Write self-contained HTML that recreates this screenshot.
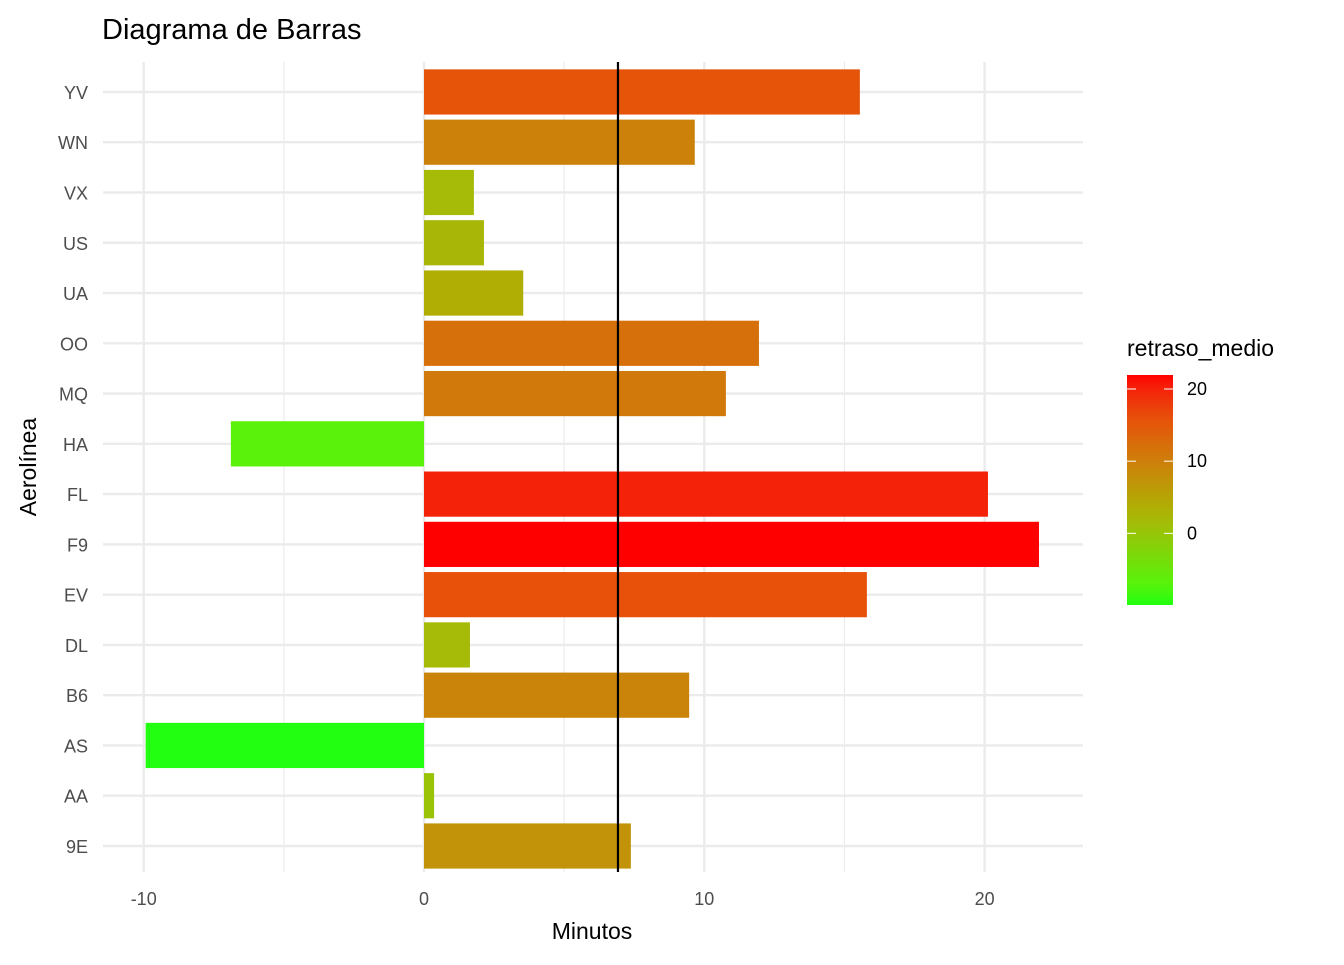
<!DOCTYPE html>
<html><head><meta charset="utf-8"><style>
body{margin:0;background:#fff;font-family:"Liberation Sans",Arial,sans-serif}
</style></head><body>
<svg id="c" width="1344" height="960" xmlns="http://www.w3.org/2000/svg"></svg>
<script>
const categories=["9E","AA","AS","B6","DL","EV","F9","FL","HA","MQ","OO","UA","US","VX","WN","YV"];
const values=[7.38,0.36,-9.93,9.46,1.64,15.8,21.94,20.12,-6.89,10.77,11.95,3.54,2.14,1.78,9.66,15.55];
const meanLine=6.92;
const xTicks=[-10,0,10,20];
const xMinor=[-5,5,15];
const legendTicks=[0,10,20];
const NS="http://www.w3.org/2000/svg";
const svg=document.getElementById('c');
function el(t,a,p){const e=document.createElementNS(NS,t);for(const k in a)e.setAttribute(k,a[k]);(p||svg).appendChild(e);return e;}
const x=v=>424+v*28.03;
const y=i=>846-i*50.27;
const L=103,R=1083,T=62,B=872;
const stops=[[0,[34,255,17]],[0.095,[90,242,10]],[0.367,[166,186,8]],[0.423,[176,174,5]],[0.615,[204,130,10]],[0.8,[230,84,10]],[0.943,[245,34,10]],[1,[255,0,0]]];
const vmin=Math.min(...values),vmax=Math.max(...values);
function colT(t){t=Math.max(0,Math.min(1,t));for(let k=1;k<stops.length;k++){if(t<=stops[k][0]){const a=stops[k-1],b=stops[k];const u=(t-a[0])/(b[0]-a[0]);
const c=a[1].map((v,j)=>Math.round(v+(b[1][j]-v)*u));return`rgb(${c[0]},${c[1]},${c[2]})`;}}return'rgb(255,0,0)';}
const col=v=>colT((v-vmin)/(vmax-vmin));
xMinor.forEach(v=>{const g=el('line',{x1:x(v),x2:x(v),y1:T,y2:B,stroke:'#ebebeb','stroke-width':1.2});

});
xTicks.forEach(v=>{const g=el('line',{x1:x(v),x2:x(v),y1:T,y2:B,stroke:'#ebebeb','stroke-width':2.4});


const t=el('text',{x:x(v),y:905,'text-anchor':'middle','font-size':18,fill:'#4d4d4d'});t.textContent=v;

});
categories.forEach((c,i)=>{const g=el('line',{x1:L,x2:R,y1:y(i),y2:y(i),stroke:'#ebebeb','stroke-width':2.4});


const t=el('text',{x:88,y:y(i)+7,'text-anchor':'end','font-size':18,fill:'#4d4d4d'});t.textContent=c;

});
categories.forEach((c,i)=>{const v=values[i];const r=el('rect',{x:Math.min(x(0),x(v)),y:y(i)-22.6,width:Math.abs(x(v)-x(0)),height:45.2,fill:col(v)});

});
const ml=el('line',{x1:x(meanLine),x2:x(meanLine),y1:T,y2:B,stroke:'#000','stroke-width':2.2});


const tt=el('text',{x:102,y:39,'font-size':29,fill:'#000'});tt.textContent='Diagrama de Barras';

const xt=el('text',{x:592,y:939,'text-anchor':'middle','font-size':23,fill:'#000'});xt.textContent='Minutos';

const yt=el('text',{x:0,y:0,'text-anchor':'middle','font-size':23,fill:'#000',transform:'translate(36,467) rotate(-90)'});yt.textContent='Aerolínea';

const lt=el('text',{x:1127,y:356,'font-size':23,fill:'#000'});lt.textContent='retraso_medio';

const defs=el('defs',{});const gr=el('linearGradient',{id:'lg',x1:0,y1:1,x2:0,y2:0},defs);
for(let k=0;k<=20;k++){el('stop',{offset:k/20,'stop-color':colT(k/20)},gr);}
const ly=v=>605-(v-vmin)*(230/(vmax-vmin));
const lb=el('rect',{x:1127,y:ly(vmax),width:46,height:230,fill:'url(#lg)'});

legendTicks.forEach(v=>{el('line',{x1:1127,x2:1136,y1:ly(v),y2:ly(v),stroke:'#fff','stroke-width':1});el('line',{x1:1164,x2:1173,y1:ly(v),y2:ly(v),stroke:'#fff','stroke-width':1});
const t=el('text',{x:1187,y:ly(v)+6,'font-size':18,fill:'#000'});t.textContent=v;
});
</script>
</body></html>
